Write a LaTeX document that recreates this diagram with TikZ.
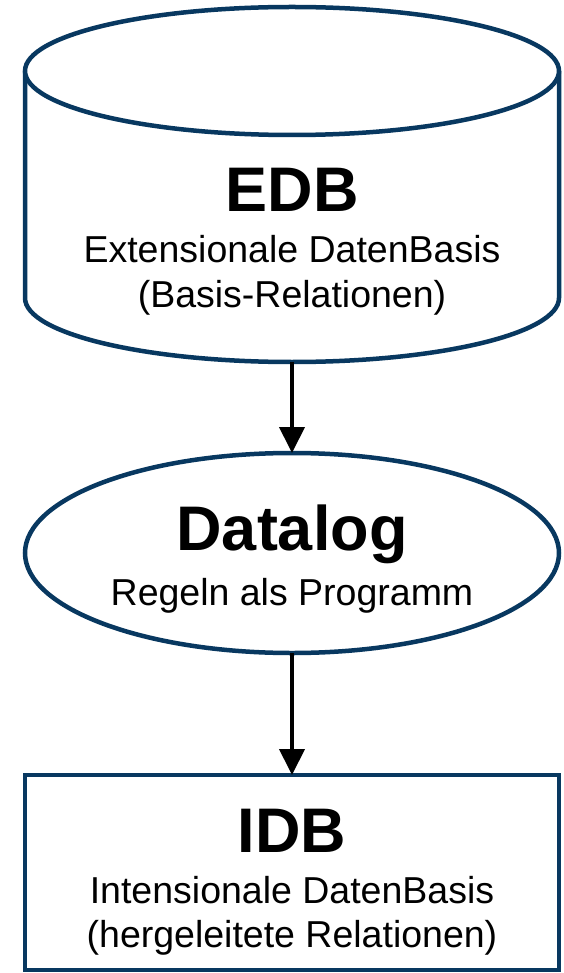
\documentclass[tikz,border=0pt]{standalone}
\usepackage{fontspec}
\setmainfont{Liberation Sans}
\usetikzlibrary{arrows.meta,shapes.geometric}
\definecolor{navyline}{RGB}{8,56,96}
\tikzset{
  shapeline/.style={draw=navyline, line width=4.5pt, fill=white},
  titletext/.style={font=\fontsize{63}{70}\selectfont\bfseries, inner sep=0pt, anchor=base},
  subtext/.style={font=\fontsize{37.5}{44}\selectfont, inner sep=0pt, anchor=base},
  flowarrow/.style={draw=black, line width=4pt, -{Triangle[length=26pt,width=25pt]}}
}
\begin{document}
\begin{tikzpicture}[x=1pt,y=-1pt]
\useasboundingbox (0,0) rectangle (563,973);
\fill[white] (0,0) rectangle (563,973);
% EDB cylinder
\filldraw[shapeline] (25,71) -- (25,298) arc[start angle=180,end angle=0,x radius=267,y radius=64] -- (559,71);
\filldraw[shapeline] (292,71) ellipse [x radius=267, y radius=64];
\node[inner sep=0pt, outer sep=0pt, minimum width=534pt, minimum height=355pt] (edb) at (292,184.5) {};
\node[titletext] (edbT) at (292,212) {EDB};
\node[subtext] (edbS1) at (292,263) {Extensionale DatenBasis};
\node[subtext] (edbS2) at (292,307) {(Basis-Relationen)};
% Datalog ellipse
\node[shapeline, ellipse, inner sep=0pt, outer sep=0pt, minimum width=534pt, minimum height=200pt] (dat) at (292,553) {};
\node[titletext] (datT) at (292,550) {Datalog};
\node[subtext] (datS) at (292,605) {Regeln als Programm};
% IDB rectangle
\node[shapeline, rectangle, inner sep=0pt, outer sep=0pt, minimum width=534pt, minimum height=195pt] (idb) at (292,872.5) {};
\node[titletext] (idbT) at (292,852) {IDB};
\node[subtext] (idbS1) at (292,903) {Intensionale DatenBasis};
\node[subtext] (idbS2) at (292,947) {(hergeleitete Relationen)};
% arrows
\draw[flowarrow] (edb.south) -- (dat.north);
\draw[flowarrow] (dat.south) -- (idb.north);
\end{tikzpicture}
\end{document}
